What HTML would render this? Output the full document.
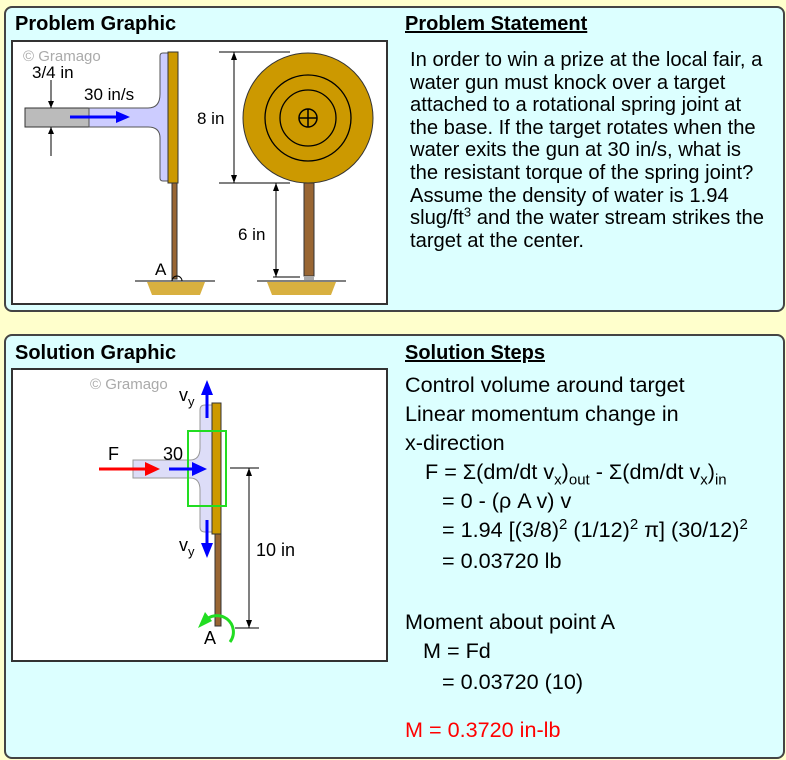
<!DOCTYPE html>
<html><head><style>
body{margin:0;width:786px;height:760px;background:#ffffcc;position:relative;overflow:hidden;font-family:"Liberation Sans",Arial,sans-serif;}
.panel{position:absolute;left:4px;width:777px;background:#dcffff;border:2px solid #444;border-radius:8px;}
.h{position:absolute;font-weight:bold;font-size:20px;color:#000;}
.u{text-decoration:underline;}
.box{position:absolute;left:11px;width:373px;background:#fff;border:2px solid #333;}
.t{position:absolute;font-size:20.2px;line-height:22.6px;color:#000;}
.s{position:absolute;font-size:21.6px;line-height:24px;color:#000;white-space:nowrap;}
sub,sup{font-size:15px;line-height:0;}
</style></head><body>
<div class="panel" style="top:6px;height:302px"></div>
<div class="panel" style="top:334px;height:421px"></div>
<div class="h" style="left:15px;top:13px">Problem Graphic</div>
<div class="h u" style="left:405px;top:13px">Problem Statement</div>
<div class="h" style="left:15px;top:342px">Solution Graphic</div>
<div class="h u" style="left:405px;top:342px">Solution Steps</div>
<div class="box" style="top:40px;height:261px"></div>
<div class="box" style="top:368px;height:290px"></div>
<svg style="position:absolute;left:0;top:0" width="786" height="760" font-family="Liberation Sans,Arial,sans-serif">
<text x="23" y="61" font-size="15" fill="#aaa">© Gramago</text>
<text x="32" y="78" font-size="17">3/4 in</text>
<text x="84" y="100" font-size="17">30 in/s</text>
<path d="M25,108 H89 V127 H25 Z" fill="#bbb" stroke="#333"/>
<path d="M89,108 H148 Q160,108 160,94 V56 Q160,53 163,53 H168 V181 H163 Q160,181 160,178 V138 Q160,127 148,127 H89 Z" fill="#ccccff" stroke="#555"/>
<rect x="168" y="52" width="10" height="131" fill="#cc9900" stroke="#333"/>
<rect x="172" y="183" width="5" height="96" fill="#996633" stroke="#333"/>
<line x1="70" y1="117" x2="120" y2="117" stroke="#00f" stroke-width="3"/><polygon points="130,117 116,111 116,123" fill="#00f"/>
<line x1="51" y1="80" x2="51" y2="108" stroke="#000"/><polygon points="51,108 48,101 54,101"/>
<line x1="51" y1="127" x2="51" y2="156" stroke="#000"/><polygon points="51,127 48,134 54,134"/>
<text x="155" y="275" font-size="17">A</text>
<path d="M172,281 a5,5 0 0 1 10,0" fill="none" stroke="#000"/>
<line x1="135" y1="281" x2="215" y2="281" stroke="#000"/>
<polygon points="147,282 205,282 200,295 152,295" fill="#d8b040"/>
<circle cx="308" cy="118" r="65" fill="#cc9900" stroke="#333"/>
<circle cx="308" cy="118" r="43" fill="none" stroke="#000" stroke-width="1.3"/>
<circle cx="308" cy="118" r="28" fill="none" stroke="#000" stroke-width="1.3"/>
<circle cx="308" cy="118" r="9" fill="none" stroke="#000" stroke-width="1.5"/>
<path d="M299,118 H317 M308,109 V127" stroke="#000" stroke-width="1.5"/>
<rect x="304" y="183" width="10" height="93" fill="#996633" stroke="#333"/>
<rect x="304" y="276" width="10" height="4" fill="#aaa"/>
<line x1="219" y1="52" x2="290" y2="52" stroke="#000"/>
<line x1="219" y1="183" x2="290" y2="183" stroke="#000"/>
<line x1="234" y1="52" x2="234" y2="183" stroke="#000"/><polygon points="234,52 231,60 237,60"/><polygon points="234,183 231,175 237,175"/>
<text x="197" y="124" font-size="17">8 in</text>
<line x1="276" y1="183" x2="276" y2="277" stroke="#000"/><polygon points="276,183 273,191 279,191"/><polygon points="276,277 273,269 279,269"/>
<line x1="273" y1="277" x2="300" y2="277" stroke="#000"/>
<text x="238" y="240" font-size="17">6 in</text>
<line x1="257" y1="281" x2="346" y2="281" stroke="#000"/>
<polygon points="267,282 336,282 331,295 272,295" fill="#d8b040"/>
<text x="90" y="389" font-size="15" fill="#aaa">© Gramago</text>
<path d="M133,460 H190 Q200,460 200,448 V410 Q200,405 205,405 H212 V532 H205 Q200,532 200,527 V490 Q200,478 190,478 H133 Z" fill="#ddddf8" stroke="#999"/>
<rect x="212" y="403" width="9" height="131" fill="#cc9900" stroke="#333"/>
<rect x="215" y="534" width="6" height="92" fill="#996633" stroke="#333"/>
<rect x="188" y="431" width="38" height="75" fill="none" stroke="#22dd22" stroke-width="2"/>
<line x1="99" y1="469" x2="150" y2="469" stroke="#f00" stroke-width="3"/><polygon points="160,469 145,462 145,476" fill="#f00"/>
<line x1="169" y1="469" x2="195" y2="469" stroke="#00f" stroke-width="3"/><polygon points="207,469 192,462 192,476" fill="#00f"/>
<line x1="207" y1="418" x2="207" y2="392" stroke="#00f" stroke-width="3"/><polygon points="207,380 201,395 213,395" fill="#00f"/>
<line x1="207" y1="520" x2="207" y2="546" stroke="#00f" stroke-width="3"/><polygon points="207,558 201,543 213,543" fill="#00f"/>
<text x="108" y="460" font-size="18">F</text>
<text x="163" y="460" font-size="18">30</text>
<text x="179" y="401" font-size="18">v<tspan font-size="13" dy="5">y</tspan></text>
<text x="179" y="551" font-size="18">v<tspan font-size="13" dy="5">y</tspan></text>
<line x1="230" y1="468" x2="259" y2="468" stroke="#000"/>
<line x1="235" y1="628" x2="259" y2="628" stroke="#000"/>
<line x1="249" y1="468" x2="249" y2="628" stroke="#000"/><polygon points="249,468 246,476 252,476"/><polygon points="249,628 246,620 252,620"/>
<text x="256" y="556" font-size="18">10 in</text>
<path d="M204,622 A15,15 0 1 1 230,642" fill="none" stroke="#22dd22" stroke-width="3"/>
<polygon points="198,628 212,621 205,612" fill="#22dd22"/>
<text x="204" y="644" font-size="18">A</text>
</svg>
<div class="t" style="left:410px;top:49px;width:358px">In order to win a prize at the local fair, a water gun must knock over a target attached to a rotational spring joint at the base. If the target rotates when the water exits the gun at 30 in/s, what is the resistant torque of the spring joint? Assume the density of water is 1.94 slug/ft<sup style="font-size:13px">3</sup> and the water stream strikes the target at the center.</div>
<div class="s" style="left:405px;top:373px">Control volume around target</div>
<div class="s" style="left:405px;top:402px">Linear momentum change in</div>
<div class="s" style="left:405px;top:431px">x-direction</div>
<div class="s" style="left:425px;top:460px">F = Σ(dm/dt v<sub>x</sub>)<sub>out</sub> - Σ(dm/dt v<sub>x</sub>)<sub>in</sub></div>
<div class="s" style="left:442px;top:489px">= 0 - (ρ A v) v</div>
<div class="s" style="left:442px;top:518px">= 1.94 [(3/8)<sup>2</sup> (1/12)<sup>2</sup> π] (30/12)<sup>2</sup></div>
<div class="s" style="left:442px;top:549px">= 0.03720 lb</div>
<div class="s" style="left:405px;top:610px">Moment about point A</div>
<div class="s" style="left:423px;top:639px">M = Fd</div>
<div class="s" style="left:442px;top:670px">= 0.03720 (10)</div>
<div class="s" style="left:405px;top:718px;color:#f00">M = 0.3720 in-lb</div>
</body></html>
